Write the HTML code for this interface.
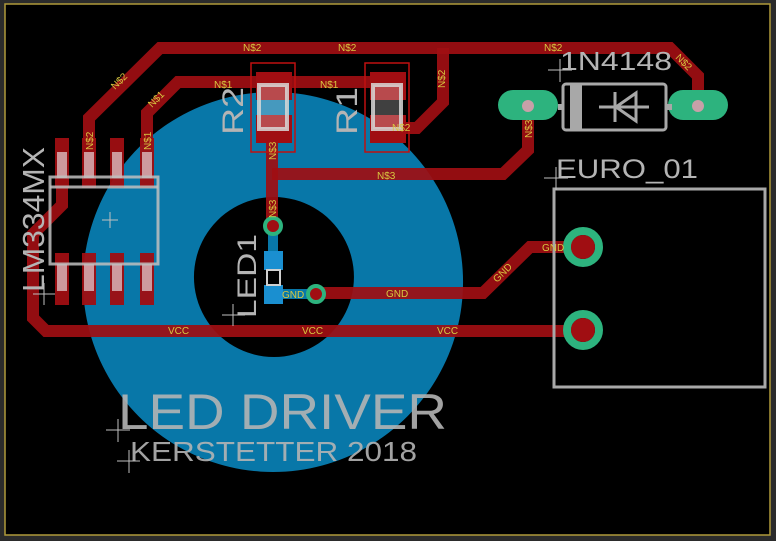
<!DOCTYPE html>
<html><head><meta charset="utf-8"><style>
html,body{margin:0;padding:0;background:#2b2b2b;}
svg{display:block;font-family:"Liberation Sans",sans-serif;}
</style></head><body>
<svg width="776" height="541" viewBox="0 0 776 541" xmlns="http://www.w3.org/2000/svg">
<rect x="0" y="0" width="776" height="541" fill="#2b2b2b"/>
<rect x="5" y="4" width="765" height="531" fill="#000" stroke="#b09a3a" stroke-width="1.5"/>
<path fill-rule="evenodd" fill="#0877a8" d="M273,92 a190,190 0 1,0 0.1,0 Z M274,197 a80,80 0 1,1 -0.1,0 Z"/>
<g fill="none" stroke="#a00e12" stroke-opacity="0.92" stroke-width="12" stroke-linejoin="miter">
<polyline points="89,140 89,118 160,48 670,48 698,76 698,105"/>
<polyline points="443,48 443,102 417,128 398,128"/>
<polyline points="147,140 147,113 178,82 385,82"/>
<polyline points="272,130 272,222"/>
<polyline points="272,174 503,174 528,150 528,105"/>
<polyline points="316,293 483,293 530,247 580,247"/>
<polyline points="62,188 62,205 33,234 33,318 46,331 580,331"/>
</g>
<g fill="#a00e12" opacity="0.95">
<rect x="55" y="138" width="14" height="50"/><rect x="82" y="138" width="14" height="50"/><rect x="110" y="138" width="14" height="50"/><rect x="140" y="138" width="14" height="50"/>
<rect x="55" y="253" width="14" height="52"/><rect x="82" y="253" width="14" height="52"/><rect x="110" y="253" width="14" height="52"/><rect x="140" y="253" width="14" height="52"/>
</g>
<g fill="#e0c8cc" opacity="0.75">
<rect x="57" y="152" width="10" height="26"/><rect x="84" y="152" width="10" height="26"/><rect x="112" y="152" width="10" height="26"/><rect x="142" y="152" width="10" height="26"/>
<rect x="57" y="264" width="10" height="27"/><rect x="84" y="264" width="10" height="27"/><rect x="112" y="264" width="10" height="27"/><rect x="142" y="264" width="10" height="27"/>
</g>
<rect x="50" y="177" width="108" height="87" fill="none" stroke="#c0c0c0" stroke-opacity="0.85" stroke-width="3"/>
<line x1="50" y1="187" x2="158" y2="187" stroke="#c0c0c0" stroke-opacity="0.85" stroke-width="3"/>
<g>
<rect x="251" y="63" width="44" height="89" fill="none" stroke="#c01010" stroke-width="1.5"/>
<rect x="256" y="72" width="36" height="28" fill="#a00e12"/><rect x="256" y="115" width="36" height="28" fill="#a00e12"/>
<rect x="259" y="85" width="28" height="44" fill="#ffffff" fill-opacity="0.25" stroke="#d8d8d8" stroke-opacity="0.85" stroke-width="4"/>
<rect x="365" y="63" width="44" height="89" fill="none" stroke="#c01010" stroke-width="1.5"/>
<rect x="370" y="72" width="36" height="28" fill="#a00e12"/><rect x="370" y="115" width="36" height="28" fill="#a00e12"/>
<rect x="373" y="85" width="28" height="44" fill="#ffffff" fill-opacity="0.25" stroke="#d8d8d8" stroke-opacity="0.85" stroke-width="4"/>
</g>
<rect x="498" y="90" width="60" height="30" rx="15" fill="#2db37e"/>
<rect x="668" y="90" width="60" height="30" rx="15" fill="#2db37e"/>
<circle cx="528" cy="106" r="6" fill="#c8a0a8"/><circle cx="698" cy="106" r="6" fill="#c8a0a8"/>
<rect x="563" y="84" width="103" height="46" rx="3" fill="none" stroke="#a8a8a8" stroke-width="3"/>
<rect x="570" y="85" width="12" height="44" fill="#a8a8a8"/>
<line x1="558" y1="107" x2="563" y2="107" stroke="#a8a8a8" stroke-width="6"/>
<line x1="666" y1="107" x2="672" y2="107" stroke="#a8a8a8" stroke-width="6"/>
<line x1="599" y1="107" x2="649" y2="107" stroke="#a8a8a8" stroke-width="3"/>
<polygon points="616,107 636,93 636,121" fill="none" stroke="#a8a8a8" stroke-width="3"/>
<line x1="615" y1="92" x2="615" y2="122" stroke="#a8a8a8" stroke-width="3"/>
<rect x="554" y="189" width="211" height="198" fill="none" stroke="#a8a8a8" stroke-width="3"/>
<circle cx="583" cy="247" r="16" fill="none" stroke="#2db37e" stroke-width="8"/>
<circle cx="583" cy="247" r="12" fill="#a00e12"/>
<circle cx="583" cy="330" r="16" fill="none" stroke="#2db37e" stroke-width="8"/>
<circle cx="583" cy="330" r="12" fill="#a00e12"/>
<line x1="273" y1="226" x2="273" y2="260" stroke="#0877a8" stroke-width="10"/>
<line x1="273" y1="294" x2="316" y2="294" stroke="#0877a8" stroke-width="10"/>
<rect x="264" y="251" width="19" height="19" fill="#1a8fd0"/>
<rect x="264" y="285" width="19" height="19" fill="#1a8fd0"/>
<rect x="267" y="270" width="13" height="15" fill="none" stroke="#d0d0d0" stroke-width="2"/>
<circle cx="273" cy="226" r="8" fill="#a00e12" stroke="#2db37e" stroke-width="4"/>
<circle cx="316" cy="294" r="8" fill="#a00e12" stroke="#2db37e" stroke-width="4"/>
<g fill="#b4b4b4">
<text x="44" y="292" font-size="31" textLength="145" lengthAdjust="spacingAndGlyphs" transform="rotate(-90 44 292)">LM334MX</text>
<text x="243" y="135" font-size="30" textLength="48" lengthAdjust="spacingAndGlyphs" transform="rotate(-90 243 135)">R2</text>
<text x="357" y="135" font-size="30" textLength="48" lengthAdjust="spacingAndGlyphs" transform="rotate(-90 357 135)">R1</text>
<text x="256" y="318" font-size="27" textLength="84" lengthAdjust="spacingAndGlyphs" transform="rotate(-90 256 318)">LED1</text>
<text x="560" y="70" font-size="26" textLength="112" lengthAdjust="spacingAndGlyphs">1N4148</text>
<text x="556" y="178" font-size="27" textLength="142" lengthAdjust="spacingAndGlyphs">EURO_01</text>
<text x="118" y="429" font-size="50" fill-opacity="0.9" textLength="329" lengthAdjust="spacingAndGlyphs">LED DRIVER</text>
<text x="130" y="461" font-size="28" fill-opacity="0.9" textLength="287" lengthAdjust="spacingAndGlyphs">KERSTETTER 2018</text>
</g>
<g fill="#d8c840" font-size="10">
<text x="243" y="51">N$2</text><text x="338" y="51">N$2</text><text x="544" y="51">N$2</text>
<text x="214" y="88">N$1</text><text x="320" y="88">N$1</text>
<text x="377" y="179">N$3</text>
<text x="386" y="297">GND</text><text x="282" y="298">GND</text><text x="542" y="251">GND</text>
<text x="168" y="334">VCC</text><text x="302" y="334">VCC</text><text x="437" y="334">VCC</text>
<text x="392" y="131">N$2</text>
<text x="93" y="150" transform="rotate(-90 93 150)">N$2</text>
<text x="151" y="150" transform="rotate(-90 151 150)">N$1</text>
<text x="276" y="160" transform="rotate(-90 276 160)">N$3</text>
<text x="276" y="218" transform="rotate(-90 276 218)">N$3</text>
<text x="445" y="88" transform="rotate(-90 445 88)">N$2</text>
<text x="532" y="138" transform="rotate(-90 532 138)">N$3</text>
<text x="115" y="90" transform="rotate(-45 115 90)">N$2</text>
<text x="152" y="108" transform="rotate(-45 152 108)">N$1</text>
<text x="497" y="283" transform="rotate(-45 497 283)">GND</text>
<text x="675" y="58" transform="rotate(45 675 58)">N$2</text>
</g>
<g stroke="#c0c0c0" stroke-width="1">
<line x1="102" y1="220" x2="118" y2="220"/><line x1="110" y1="212" x2="110" y2="228"/>
<line x1="33" y1="294" x2="55" y2="294"/><line x1="44" y1="283" x2="44" y2="305"/>
<line x1="222" y1="315" x2="245" y2="315"/><line x1="233" y1="304" x2="233" y2="326"/>
<line x1="106" y1="430" x2="130" y2="430"/><line x1="118" y1="419" x2="118" y2="442"/>
<line x1="117" y1="461" x2="140" y2="461"/><line x1="129" y1="450" x2="129" y2="473"/>
<line x1="548" y1="70" x2="572" y2="70"/><line x1="560" y1="59" x2="560" y2="82"/>
<line x1="544" y1="178" x2="568" y2="178"/><line x1="556" y1="167" x2="556" y2="190"/>
</g>
</svg>
</body></html>
